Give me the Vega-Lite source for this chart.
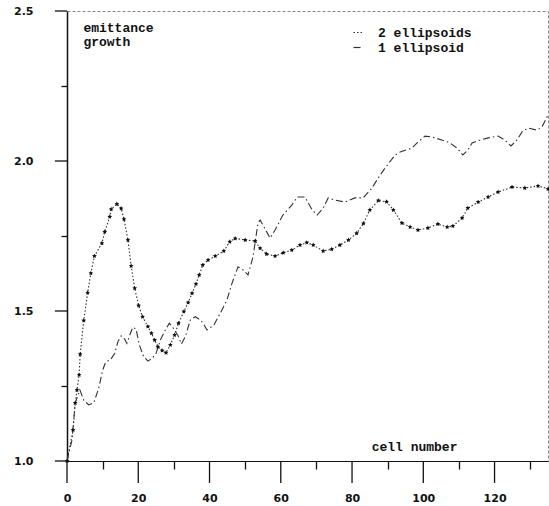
{
  "$schema": "https://vega.github.io/schema/vega-lite/v6.json",
  "width": 481,
  "height": 450,
  "autosize": {"type": "none"},
  "padding": {"left": 67, "top": 11, "right": 1, "bottom": 45},
  "background": "white",
  "config": {
    "view": {"stroke": "#888", "strokeDash": [3, 2], "strokeWidth": 1},
    "axis": {"tickWidth": 1.3, "tickColor": "#111", "zindex": 1}
  },
  "resolve": {"axis": {"x": "independent", "y": "independent"}},
  "datasets": {
    "curves": [
      {"series": "2 ellipsoids", "cell": 0, "growth": 1.0},
      {"series": "2 ellipsoids", "cell": 1.7, "growth": 1.103},
      {"series": "2 ellipsoids", "cell": 2.3, "growth": 1.193},
      {"series": "2 ellipsoids", "cell": 2.8, "growth": 1.237},
      {"series": "2 ellipsoids", "cell": 3.4, "growth": 1.287},
      {"series": "2 ellipsoids", "cell": 3.7, "growth": 1.356},
      {"series": "2 ellipsoids", "cell": 4.7, "growth": 1.468},
      {"series": "2 ellipsoids", "cell": 5.8, "growth": 1.561},
      {"series": "2 ellipsoids", "cell": 6.7, "growth": 1.626},
      {"series": "2 ellipsoids", "cell": 7.7, "growth": 1.683},
      {"series": "2 ellipsoids", "cell": 9.8, "growth": 1.726},
      {"series": "2 ellipsoids", "cell": 10.6, "growth": 1.764},
      {"series": "2 ellipsoids", "cell": 12.0, "growth": 1.814},
      {"series": "2 ellipsoids", "cell": 12.4, "growth": 1.839},
      {"series": "2 ellipsoids", "cell": 14.0, "growth": 1.857},
      {"series": "2 ellipsoids", "cell": 15.2, "growth": 1.842},
      {"series": "2 ellipsoids", "cell": 16.0, "growth": 1.806},
      {"series": "2 ellipsoids", "cell": 17.1, "growth": 1.737},
      {"series": "2 ellipsoids", "cell": 18.0, "growth": 1.65},
      {"series": "2 ellipsoids", "cell": 19.0, "growth": 1.576},
      {"series": "2 ellipsoids", "cell": 20.1, "growth": 1.518},
      {"series": "2 ellipsoids", "cell": 21.2, "growth": 1.481},
      {"series": "2 ellipsoids", "cell": 22.7, "growth": 1.448},
      {"series": "2 ellipsoids", "cell": 23.7, "growth": 1.426},
      {"series": "2 ellipsoids", "cell": 24.6, "growth": 1.403},
      {"series": "2 ellipsoids", "cell": 25.5, "growth": 1.381},
      {"series": "2 ellipsoids", "cell": 26.7, "growth": 1.368},
      {"series": "2 ellipsoids", "cell": 27.8, "growth": 1.361},
      {"series": "2 ellipsoids", "cell": 29.0, "growth": 1.387},
      {"series": "2 ellipsoids", "cell": 30.2, "growth": 1.42},
      {"series": "2 ellipsoids", "cell": 31.3, "growth": 1.459},
      {"series": "2 ellipsoids", "cell": 32.8, "growth": 1.498},
      {"series": "2 ellipsoids", "cell": 34.0, "growth": 1.528},
      {"series": "2 ellipsoids", "cell": 35.1, "growth": 1.559},
      {"series": "2 ellipsoids", "cell": 36.2, "growth": 1.59},
      {"series": "2 ellipsoids", "cell": 37.1, "growth": 1.62},
      {"series": "2 ellipsoids", "cell": 38.1, "growth": 1.653},
      {"series": "2 ellipsoids", "cell": 39.6, "growth": 1.67},
      {"series": "2 ellipsoids", "cell": 41.6, "growth": 1.683},
      {"series": "2 ellipsoids", "cell": 44.0, "growth": 1.7},
      {"series": "2 ellipsoids", "cell": 45.7, "growth": 1.731},
      {"series": "2 ellipsoids", "cell": 47.2, "growth": 1.742},
      {"series": "2 ellipsoids", "cell": 50.0, "growth": 1.737},
      {"series": "2 ellipsoids", "cell": 52.8, "growth": 1.733},
      {"series": "2 ellipsoids", "cell": 54.2, "growth": 1.709},
      {"series": "2 ellipsoids", "cell": 56.0, "growth": 1.69},
      {"series": "2 ellipsoids", "cell": 58.4, "growth": 1.683},
      {"series": "2 ellipsoids", "cell": 60.7, "growth": 1.694},
      {"series": "2 ellipsoids", "cell": 63.1, "growth": 1.703},
      {"series": "2 ellipsoids", "cell": 65.4, "growth": 1.72},
      {"series": "2 ellipsoids", "cell": 67.3, "growth": 1.728},
      {"series": "2 ellipsoids", "cell": 69.1, "growth": 1.72},
      {"series": "2 ellipsoids", "cell": 71.9, "growth": 1.7},
      {"series": "2 ellipsoids", "cell": 74.3, "growth": 1.706},
      {"series": "2 ellipsoids", "cell": 76.6, "growth": 1.72},
      {"series": "2 ellipsoids", "cell": 79.0, "growth": 1.737},
      {"series": "2 ellipsoids", "cell": 81.3, "growth": 1.759},
      {"series": "2 ellipsoids", "cell": 83.2, "growth": 1.792},
      {"series": "2 ellipsoids", "cell": 85.0, "growth": 1.837},
      {"series": "2 ellipsoids", "cell": 87.4, "growth": 1.868},
      {"series": "2 ellipsoids", "cell": 89.7, "growth": 1.864},
      {"series": "2 ellipsoids", "cell": 91.6, "growth": 1.837},
      {"series": "2 ellipsoids", "cell": 94.0, "growth": 1.793},
      {"series": "2 ellipsoids", "cell": 96.3, "growth": 1.78},
      {"series": "2 ellipsoids", "cell": 98.5, "growth": 1.77},
      {"series": "2 ellipsoids", "cell": 101.3, "growth": 1.777},
      {"series": "2 ellipsoids", "cell": 104.1, "growth": 1.79},
      {"series": "2 ellipsoids", "cell": 106.7, "growth": 1.78},
      {"series": "2 ellipsoids", "cell": 108.3, "growth": 1.783},
      {"series": "2 ellipsoids", "cell": 110.9, "growth": 1.81},
      {"series": "2 ellipsoids", "cell": 112.5, "growth": 1.843},
      {"series": "2 ellipsoids", "cell": 115.4, "growth": 1.863},
      {"series": "2 ellipsoids", "cell": 118.2, "growth": 1.88},
      {"series": "2 ellipsoids", "cell": 121.0, "growth": 1.897},
      {"series": "2 ellipsoids", "cell": 124.9, "growth": 1.913},
      {"series": "2 ellipsoids", "cell": 128.5, "growth": 1.91},
      {"series": "2 ellipsoids", "cell": 132.2, "growth": 1.917},
      {"series": "2 ellipsoids", "cell": 135.0, "growth": 1.907},
      {"series": "1 ellipsoid", "cell": 0, "growth": 1.0},
      {"series": "1 ellipsoid", "cell": 1.4, "growth": 1.07},
      {"series": "1 ellipsoid", "cell": 2.3, "growth": 1.193},
      {"series": "1 ellipsoid", "cell": 3.6, "growth": 1.237},
      {"series": "1 ellipsoid", "cell": 4.7, "growth": 1.203},
      {"series": "1 ellipsoid", "cell": 6.1, "growth": 1.187},
      {"series": "1 ellipsoid", "cell": 7.5, "growth": 1.194},
      {"series": "1 ellipsoid", "cell": 8.9, "growth": 1.242},
      {"series": "1 ellipsoid", "cell": 10.0, "growth": 1.303},
      {"series": "1 ellipsoid", "cell": 10.9, "growth": 1.331},
      {"series": "1 ellipsoid", "cell": 12.2, "growth": 1.337},
      {"series": "1 ellipsoid", "cell": 13.4, "growth": 1.359},
      {"series": "1 ellipsoid", "cell": 14.3, "growth": 1.398},
      {"series": "1 ellipsoid", "cell": 15.2, "growth": 1.417},
      {"series": "1 ellipsoid", "cell": 16.2, "growth": 1.406},
      {"series": "1 ellipsoid", "cell": 16.8, "growth": 1.392},
      {"series": "1 ellipsoid", "cell": 17.8, "growth": 1.426},
      {"series": "1 ellipsoid", "cell": 18.5, "growth": 1.446},
      {"series": "1 ellipsoid", "cell": 19.4, "growth": 1.439},
      {"series": "1 ellipsoid", "cell": 20.3, "growth": 1.387},
      {"series": "1 ellipsoid", "cell": 21.5, "growth": 1.348},
      {"series": "1 ellipsoid", "cell": 22.7, "growth": 1.333},
      {"series": "1 ellipsoid", "cell": 23.9, "growth": 1.342},
      {"series": "1 ellipsoid", "cell": 25.0, "growth": 1.359},
      {"series": "1 ellipsoid", "cell": 26.2, "growth": 1.403},
      {"series": "1 ellipsoid", "cell": 27.6, "growth": 1.437},
      {"series": "1 ellipsoid", "cell": 28.7, "growth": 1.459},
      {"series": "1 ellipsoid", "cell": 29.9, "growth": 1.442},
      {"series": "1 ellipsoid", "cell": 31.2, "growth": 1.417},
      {"series": "1 ellipsoid", "cell": 32.1, "growth": 1.39},
      {"series": "1 ellipsoid", "cell": 33.2, "growth": 1.414},
      {"series": "1 ellipsoid", "cell": 34.6, "growth": 1.47},
      {"series": "1 ellipsoid", "cell": 36.0, "growth": 1.481},
      {"series": "1 ellipsoid", "cell": 37.7, "growth": 1.468},
      {"series": "1 ellipsoid", "cell": 39.3, "growth": 1.437},
      {"series": "1 ellipsoid", "cell": 41.2, "growth": 1.453},
      {"series": "1 ellipsoid", "cell": 43.0, "growth": 1.492},
      {"series": "1 ellipsoid", "cell": 44.9, "growth": 1.537},
      {"series": "1 ellipsoid", "cell": 46.3, "growth": 1.592},
      {"series": "1 ellipsoid", "cell": 48.0, "growth": 1.647},
      {"series": "1 ellipsoid", "cell": 49.4, "growth": 1.637},
      {"series": "1 ellipsoid", "cell": 50.8, "growth": 1.62},
      {"series": "1 ellipsoid", "cell": 52.2, "growth": 1.68},
      {"series": "1 ellipsoid", "cell": 53.6, "growth": 1.793},
      {"series": "1 ellipsoid", "cell": 54.2, "growth": 1.803},
      {"series": "1 ellipsoid", "cell": 55.3, "growth": 1.78},
      {"series": "1 ellipsoid", "cell": 57.0, "growth": 1.743},
      {"series": "1 ellipsoid", "cell": 58.4, "growth": 1.77},
      {"series": "1 ellipsoid", "cell": 60.6, "growth": 1.82},
      {"series": "1 ellipsoid", "cell": 63.1, "growth": 1.853},
      {"series": "1 ellipsoid", "cell": 64.6, "growth": 1.88},
      {"series": "1 ellipsoid", "cell": 66.8, "growth": 1.88},
      {"series": "1 ellipsoid", "cell": 68.8, "growth": 1.837},
      {"series": "1 ellipsoid", "cell": 70.2, "growth": 1.82},
      {"series": "1 ellipsoid", "cell": 71.9, "growth": 1.843},
      {"series": "1 ellipsoid", "cell": 73.3, "growth": 1.877},
      {"series": "1 ellipsoid", "cell": 75.2, "growth": 1.87},
      {"series": "1 ellipsoid", "cell": 78.0, "growth": 1.863},
      {"series": "1 ellipsoid", "cell": 80.8, "growth": 1.877},
      {"series": "1 ellipsoid", "cell": 83.1, "growth": 1.877},
      {"series": "1 ellipsoid", "cell": 85.6, "growth": 1.91},
      {"series": "1 ellipsoid", "cell": 87.3, "growth": 1.943},
      {"series": "1 ellipsoid", "cell": 89.3, "growth": 1.977},
      {"series": "1 ellipsoid", "cell": 92.1, "growth": 2.02},
      {"series": "1 ellipsoid", "cell": 93.5, "growth": 2.03},
      {"series": "1 ellipsoid", "cell": 96.8, "growth": 2.043},
      {"series": "1 ellipsoid", "cell": 98.5, "growth": 2.063},
      {"series": "1 ellipsoid", "cell": 100.5, "growth": 2.083},
      {"series": "1 ellipsoid", "cell": 102.4, "growth": 2.08},
      {"series": "1 ellipsoid", "cell": 105.2, "growth": 2.07},
      {"series": "1 ellipsoid", "cell": 107.5, "growth": 2.06},
      {"series": "1 ellipsoid", "cell": 109.5, "growth": 2.043},
      {"series": "1 ellipsoid", "cell": 111.1, "growth": 2.02},
      {"series": "1 ellipsoid", "cell": 112.5, "growth": 2.037},
      {"series": "1 ellipsoid", "cell": 113.7, "growth": 2.06},
      {"series": "1 ellipsoid", "cell": 115.9, "growth": 2.07},
      {"series": "1 ellipsoid", "cell": 118.2, "growth": 2.077},
      {"series": "1 ellipsoid", "cell": 121.0, "growth": 2.083},
      {"series": "1 ellipsoid", "cell": 122.9, "growth": 2.07},
      {"series": "1 ellipsoid", "cell": 124.6, "growth": 2.05},
      {"series": "1 ellipsoid", "cell": 126.3, "growth": 2.07},
      {"series": "1 ellipsoid", "cell": 127.7, "growth": 2.097},
      {"series": "1 ellipsoid", "cell": 129.4, "growth": 2.11},
      {"series": "1 ellipsoid", "cell": 131.9, "growth": 2.103},
      {"series": "1 ellipsoid", "cell": 133.3, "growth": 2.113},
      {"series": "1 ellipsoid", "cell": 135.0, "growth": 2.153}
    ],
    "notes": [
      {"label": "emittance", "cell": 4.6, "growth": 2.445},
      {"label": "growth", "cell": 4.6, "growth": 2.397},
      {"label": "cell number", "cell": 85.5, "growth": 1.047}
    ],
    "xticks": [
      {"cell": 0}, {"cell": 20}, {"cell": 40}, {"cell": 60}, {"cell": 80}, {"cell": 100}, {"cell": 120}
    ],
    "yticks": [
      {"growth": 1.0}, {"growth": 1.5}, {"growth": 2.0}, {"growth": 2.5}
    ]
  },
  "layer": [
    {
      "data": {"name": "curves"},
      "mark": {"type": "line", "strokeWidth": 1.1},
      "encoding": {
        "x": {
          "field": "cell", "type": "quantitative",
          "scale": {"domain": [0, 135], "nice": false, "zero": false},
          "axis": {
            "orient": "bottom",
            "title": null,
            "values": [0, 20, 40, 60, 80, 100, 120],
            "format": "d",
            "ticks": false,
            "labelPadding": 31,
            "labelFlush": false,
            "labelOverlap": false,
            "labelFont": "DejaVu Sans",
            "labelFontWeight": "bold",
            "labelFontSize": 11,
            "labelColor": "#111",
            "domainColor": "#111",
            "grid": false
          }
        },
        "y": {
          "field": "growth", "type": "quantitative",
          "scale": {"domain": [1, 2.5], "nice": false, "zero": false},
          "axis": {
            "orient": "left",
            "title": null,
            "values": [1, 1.5, 2, 2.5],
            "format": ".1f",
            "ticks": false,
            "labelPadding": 34,
            "labelFlush": false,
            "labelOverlap": false,
            "labelFont": "DejaVu Sans",
            "labelFontWeight": "bold",
            "labelFontSize": 11,
            "labelColor": "#111",
            "domainColor": "#111",
            "domainWidth": 1.5,
            "grid": false
          }
        },
        "color": {
          "field": "series", "type": "nominal",
          "scale": {"domain": ["2 ellipsoids", "1 ellipsoid"], "range": ["#333333", "#333333"]},
          "legend": {
            "title": null, "orient": "none", "legendX": 285, "legendY": 15,
            "direction": "vertical", "symbolType": "stroke", "symbolSize": 100,
            "symbolStrokeWidth": 1.2, "labelFont": "Liberation Mono", "labelFontWeight": "bold",
            "labelFontSize": 13, "labelColor": "#111", "labelOffset": 13, "rowPadding": 1, "padding": 0
          }
        },
        "strokeDash": {
          "field": "series", "type": "nominal",
          "scale": {"domain": ["2 ellipsoids", "1 ellipsoid"], "range": [[1.5, 2], [7, 3, 1.5, 3]]},
          "legend": {
            "title": null, "orient": "none", "legendX": 285, "legendY": 15,
            "direction": "vertical", "symbolType": "stroke", "symbolSize": 100,
            "symbolStrokeWidth": 1.2, "labelFont": "Liberation Mono", "labelFontWeight": "bold",
            "labelFontSize": 13, "labelColor": "#111", "labelOffset": 13, "rowPadding": 1, "padding": 0
          }
        }
      }
    },
    {
      "data": {"name": "curves"},
      "transform": [{"filter": "datum.series === '2 ellipsoids'"}],
      "mark": {
        "type": "point",
        "shape": "M0,-1L0.29,-0.4L0.95,-0.31L0.47,0.15L0.59,0.81L0,0.5L-0.59,0.81L-0.47,0.15L-0.95,-0.31L-0.29,-0.4Z",
        "filled": true, "size": 24, "color": "#111", "opacity": 1
      },
      "encoding": {
        "x": {
          "field": "cell", "type": "quantitative",
          "axis": {
            "orient": "bottom", "title": null,
            "values": [10, 30, 50, 70, 90, 110, 130],
            "ticks": true, "tickSize": 8, "labels": false, "domain": false, "grid": false
          }
        },
        "y": {
          "field": "growth", "type": "quantitative",
          "axis": {
            "orient": "left", "title": null,
            "values": [1.25, 1.75, 2.25],
            "ticks": true, "tickSize": 6, "labels": false, "domain": false, "grid": false
          }
        }
      }
    },
    {
      "data": {"name": "xticks"},
      "mark": {"type": "rule", "color": "#111", "strokeWidth": 1.3},
      "encoding": {
        "x": {"field": "cell", "type": "quantitative", "axis": null},
        "y": {"datum": 1.0, "type": "quantitative", "axis": null},
        "y2": {"datum": 0.927}
      }
    },
    {
      "data": {"name": "yticks"},
      "mark": {"type": "rule", "color": "#111", "strokeWidth": 1.3},
      "encoding": {
        "y": {"field": "growth", "type": "quantitative", "axis": null},
        "x": {"datum": 0, "type": "quantitative", "axis": null},
        "x2": {"datum": -3.4}
      }
    },
    {
      "data": {"name": "notes"},
      "mark": {"type": "text", "align": "left", "baseline": "middle", "font": "Liberation Mono", "fontWeight": "bold", "fontSize": 13, "color": "#111"},
      "encoding": {
        "x": {"field": "cell", "type": "quantitative", "axis": null},
        "y": {"field": "growth", "type": "quantitative", "axis": null},
        "text": {"field": "label"}
      }
    }
  ]
}
